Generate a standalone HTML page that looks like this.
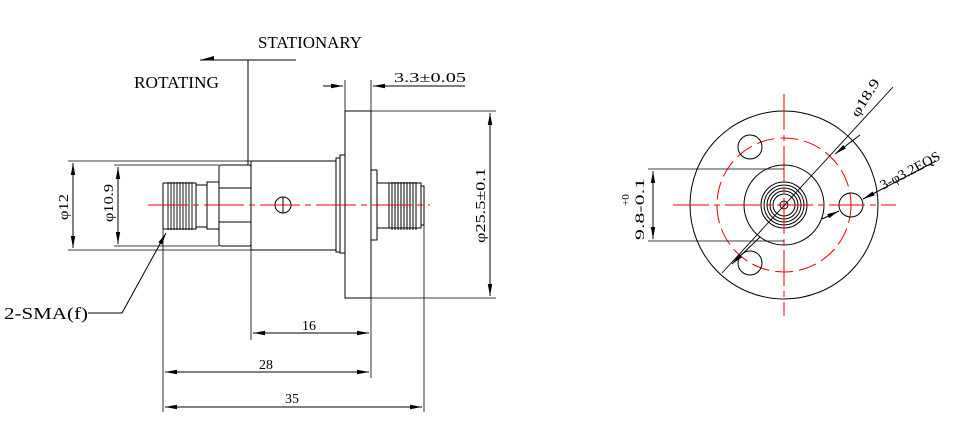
<!DOCTYPE html>
<html><head><meta charset="utf-8"><style>html,body{margin:0;padding:0;background:#fff}svg{display:block}</style></head>
<body>
<svg width="961" height="429" viewBox="0 0 961 429" xmlns="http://www.w3.org/2000/svg" font-family="Liberation Serif, serif" fill="none" stroke="#000" stroke-width="1">
<defs>
<marker id="a" markerWidth="12" markerHeight="6" refX="12" refY="3" orient="auto" markerUnits="userSpaceOnUse"><path d="M0,0.8 L12,3 L0,5.2z" fill="#000" stroke="none"/></marker>
</defs>
<g fill="#000" stroke="none" font-size="17">
<text x="258" y="48" textLength="104" lengthAdjust="spacingAndGlyphs">STATIONARY</text>
<text x="134" y="88" textLength="85" lengthAdjust="spacingAndGlyphs">ROTATING</text>
<text x="4" y="319" textLength="84" lengthAdjust="spacingAndGlyphs">2-SMA(f)</text>
</g>
<g fill="#000" stroke="none" font-size="14">
<text x="394" y="82" textLength="72" lengthAdjust="spacingAndGlyphs">3.3±0.05</text>
<text x="302" y="330">16</text>
<text x="259" y="369">28</text>
<text x="285" y="403">35</text>
<text transform="translate(68,220) rotate(-90)" textLength="26" lengthAdjust="spacingAndGlyphs">φ12</text>
<text transform="translate(113,222) rotate(-90)" textLength="38" lengthAdjust="spacingAndGlyphs">φ10.9</text>
<text transform="translate(485,243) rotate(-90)" textLength="75" lengthAdjust="spacingAndGlyphs">φ25.5±0.1</text>
<text transform="translate(644,240) rotate(-90)" font-size="13" textLength="62" lengthAdjust="spacingAndGlyphs">9.8-0.1</text>
<text transform="translate(629,206) rotate(-90)" font-size="11">+0</text>
<text transform="translate(858,118) rotate(-58)" textLength="42" lengthAdjust="spacingAndGlyphs">φ18.9</text>
<text transform="translate(883,190) rotate(-28)" textLength="66" lengthAdjust="spacingAndGlyphs">3-φ3.2EQS</text>
</g>
<path d="M200,60 H296 M248,60 V165"/>
<path d="M200,60 L214,56 V60z" fill="#000" stroke="none"/>
<path d="M163,183 V229 M163,183 H196 V229 H163"/>
<g stroke-width="0.9">
<path d="M168,182 V230 M171,182 V230 M174,182 V230 M177,182 V230 M180,182 V230 M183,182 V230 M186,182 V230 M189,182 V230 M192,182 V230"/>
</g>
<rect x="196" y="185" width="11" height="42"/>
<rect x="207" y="182" width="12" height="47"/>
<rect x="219" y="165" width="32" height="81" rx="2"/>
<path d="M219,188 H251 M219,222 H251"/>
<rect x="251" y="161" width="85" height="89"/>
<circle cx="283" cy="205" r="8"/><path d="M283,197 V213"/>
<rect x="336" y="158" width="4" height="94"/>
<rect x="340" y="155" width="5" height="98"/>
<rect x="345" y="111" width="26" height="187"/>
<rect x="371" y="170" width="6" height="70"/>
<rect x="377" y="183" width="12" height="45"/>
<path d="M389,183 H421 V228 H389z"/>
<path d="M392,182 V230 M395,182 V230 M398,182 V230 M401,182 V230 M404,182 V230 M407,182 V230 M410,182 V230 M413,182 V230 M416,182 V230"/>
<path d="M421,186 H424 V225 H421"/>
<path d="M148,205 H430" stroke="#e00" stroke-dasharray="40,5,6,5"/>
<path d="M68,161 H251 M68,250 H251 M114,165 H219 M114,246 H219" stroke-width="0.8"/>
<path d="M73,205 V163" marker-end="url(#a)"/><path d="M73,205 V248" marker-end="url(#a)"/>
<path d="M118,205 V167" marker-end="url(#a)"/><path d="M118,205 V244" marker-end="url(#a)"/>
<path d="M371,111 H496 M371,298 H496" stroke-width="0.8"/>
<path d="M490,205 V113" marker-end="url(#a)"/><path d="M490,205 V296" marker-end="url(#a)"/>
<path d="M345,80 V111 M371,80 V111" stroke-width="0.8"/>
<path d="M323,86 H343" marker-end="url(#a)"/><path d="M465,86 H373" marker-end="url(#a)"/>
<path d="M251,250 V340 M371,298 V378 M163,229 V412 M424,225 V412" stroke-width="0.8"/>
<path d="M311,333 H253" marker-end="url(#a)"/><path d="M311,333 H369" marker-end="url(#a)"/>
<path d="M267,372 H165" marker-end="url(#a)"/><path d="M267,372 H369" marker-end="url(#a)"/>
<path d="M293,407 H165" marker-end="url(#a)"/><path d="M293,407 H422" marker-end="url(#a)"/>
<path d="M88,313 H122 L166,233" marker-end="url(#a)"/>
<circle cx="784" cy="205" r="94"/>
<circle cx="784" cy="205" r="67" stroke="#e00" stroke-dasharray="18,6"/>
<circle cx="851" cy="205" r="12"/>
<circle cx="750" cy="147" r="12"/>
<circle cx="750" cy="263" r="12"/>
<circle cx="784" cy="205" r="40"/>
<circle cx="784" cy="205" r="23"/><circle cx="784" cy="205" r="20"/><circle cx="784" cy="205" r="17"/><circle cx="784" cy="205" r="14"/><circle cx="784" cy="205" r="11"/>
<circle cx="784" cy="205" r="4"/>
<path d="M673,205 H896 M784,94 V316" stroke="#e00" stroke-dasharray="36,5,6,5"/>
<path d="M648,169 H784 M648,241 H784" stroke-width="0.8"/>
<path d="M653,205 V171" marker-end="url(#a)"/><path d="M653,205 V239" marker-end="url(#a)"/>
<path d="M722,273 L893,87" stroke-width="0.9"/>
<path d="M860,135 L835,154" marker-end="url(#a)"/>
<path d="M760,237 L732,264" marker-end="url(#a)"/>
<path d="M822,219 L839,211" marker-end="url(#a)"/>
<path d="M936,161 L863,199" marker-end="url(#a)"/>
</svg>
</body></html>
